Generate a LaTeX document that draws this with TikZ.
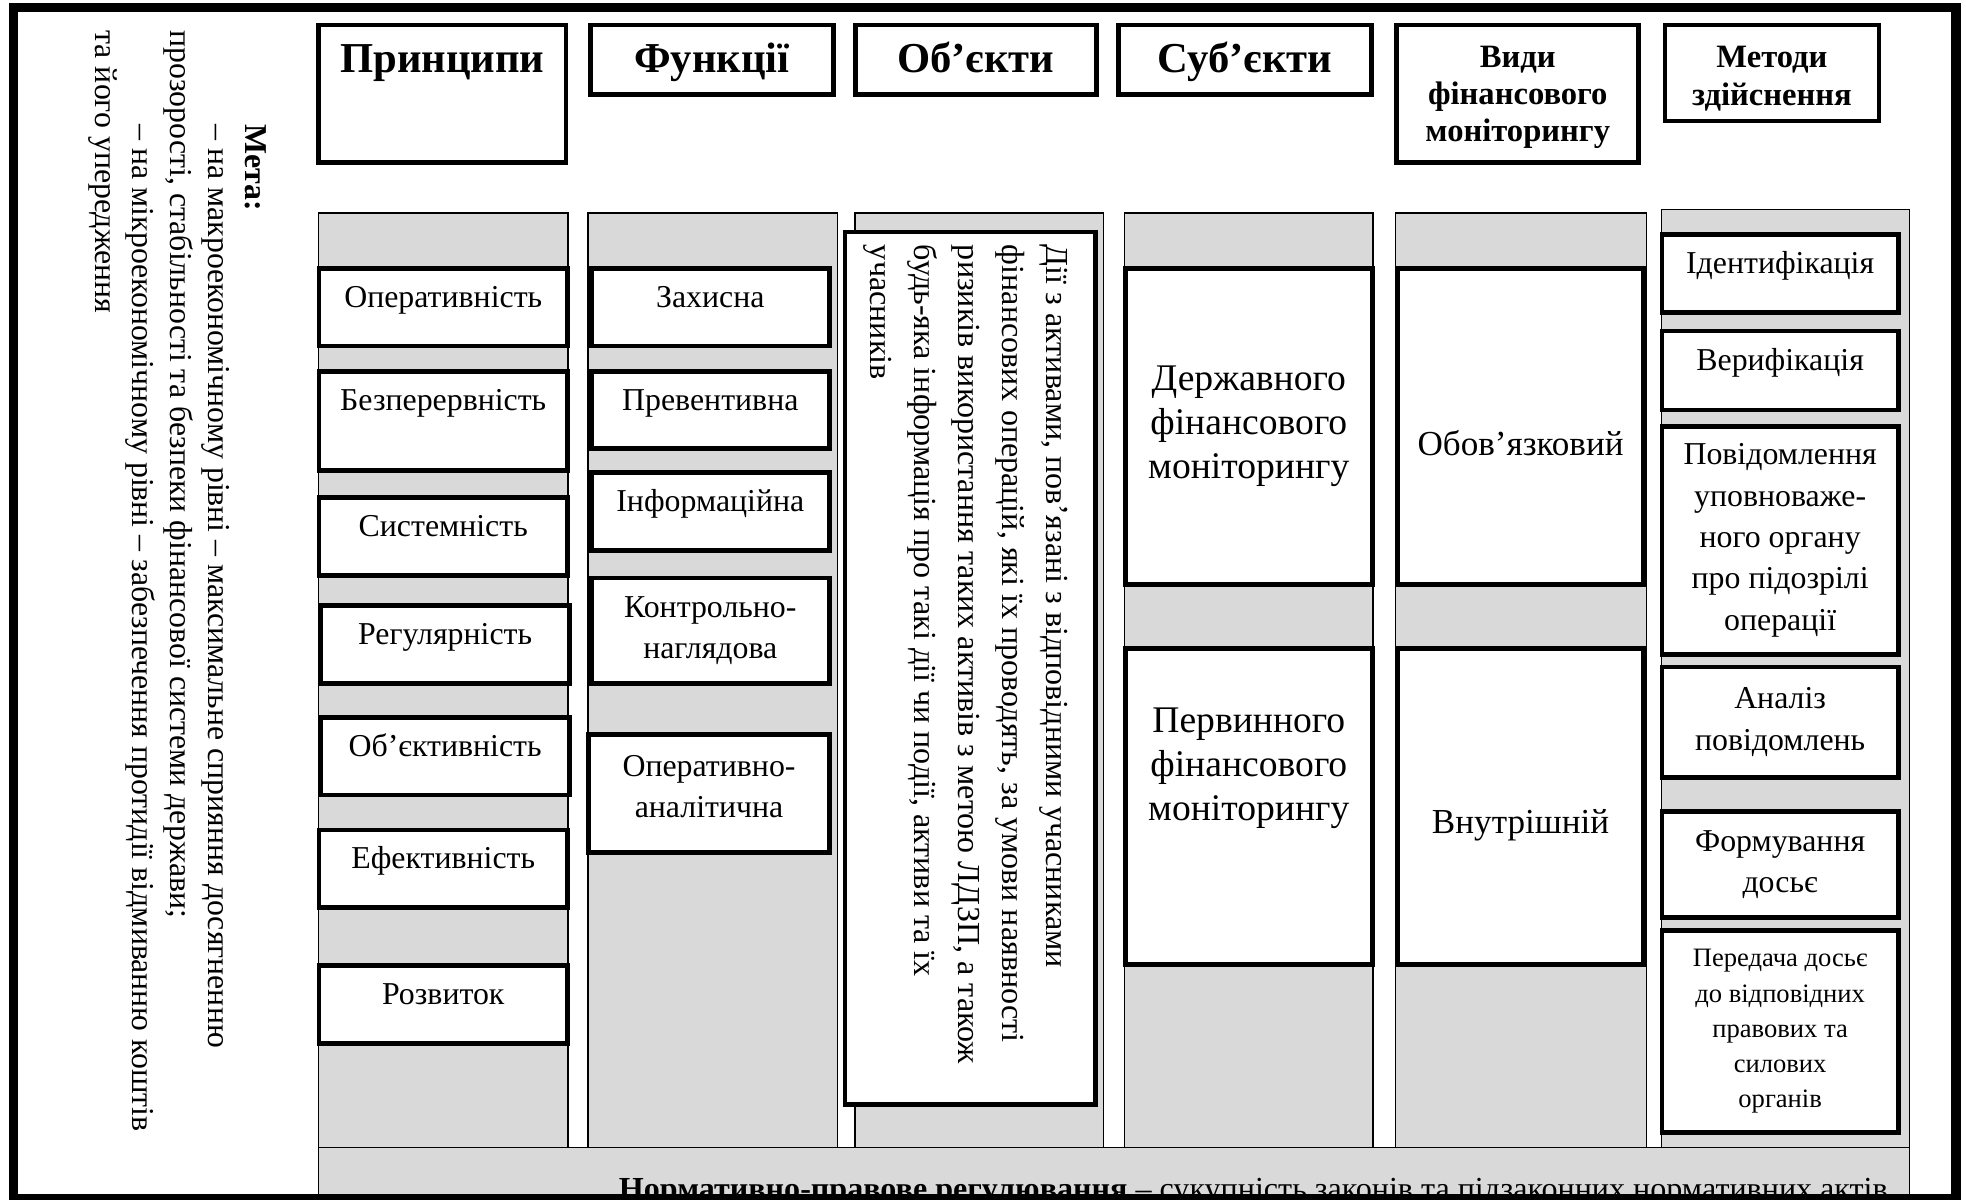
\documentclass[tikz,border=0pt]{standalone}
\usepackage{fontspec}
\setmainfont{Liberation Serif}

\tikzset{
  span/.style n args={4}{at={({(#1+#3)/2},{(#2+#4)/2})},
    minimum width={(#3-#1)*0.5pt}, minimum height={(#4-#2)*0.5pt}},
  stripe/.style={draw, line width=0.6pt, fill=black!15, inner sep=0pt},
  cell/.style={draw, line width=1.9pt, fill=white, inner sep=0pt, align=center,
    font=\fontsize{12.7}{16.5}\selectfont},
  lift/.style={text height=9pt, text depth=9pt},
  head/.style={cell, font=\fontsize{17}{20}\selectfont\bfseries},
  subhead/.style={cell, font=\fontsize{13}{14.8}\selectfont\bfseries},
  large/.style={cell, font=\fontsize{15}{17.5}\selectfont},
  small/.style={cell, font=\fontsize{10.6}{14}\selectfont},
  turned/.style={rotate=-90, anchor=north west, inner sep=0pt, align=left}
}

\begin{document}
\begin{tikzpicture}[x=0.5pt, y=-0.5pt]
  \useasboundingbox (0,0) rectangle (1568,957);

  % grey columns and the bottom band
  \node[stripe, span={254}{170}{453}{915}] (c1) {};
  \node[stripe, span={469}{170}{668}{915}] (c2) {};
  \node[stripe, span={682}{170}{880}{915}] (c3) {};
  \node[stripe, span={897}{170}{1095}{915}] (c4) {};
  \node[stripe, span={1113}{170}{1313}{915}] (c5) {};
  \node[stripe, span={1325}{167}{1523}{915}] (c6) {};
  \node[stripe, span={254}{915}{1523}{957}] (law) {};
  \node[anchor=base east, inner sep=0pt, font=\fontsize{12.8}{15}\selectfont] (lawtxt) at (1506,957)
    {\textbf{Нормативно-правове регулювання} – сукупність законів та підзаконних нормативних актів};

  % headers
  \node[head, span={254}{20}{451.5}{129.5}, text height=12pt, text depth=29pt] (princ) {Принципи};
  \node[head, span={471}{20}{664.5}{75.5}, text height=14pt, text depth=4pt] (func) {Функції};
  \node[head, span={682}{20}{874.5}{75.5}, text height=14pt, text depth=4pt] (obj) {Об’єкти};
  \node[head, span={892}{20}{1094}{75.5}, text height=14pt, text depth=4pt] (subj) {Суб’єкти};
  \node[subhead, span={1114}{20}{1307}{129.5}] (kind) {\rule{0pt}{11.5pt}Види\\фінансового\\моніторингу};
  \node[subhead, span={1328}{20}{1498.5}{96.5}] (meth) {\rule{0pt}{13pt}Методи\\здійснення};

  % principles
  \node[cell, lift, span={254.5}{214}{452.5}{276}] (p1) {Оперативність};
  \node[cell, span={254.5}{296}{452.5}{375}, text height=9pt, text depth=17pt] (p2) {Безперервність};
  \node[cell, lift, span={254.5}{397}{452.5}{459}] (p3) {Системність};
  \node[cell, lift, span={256}{483}{454}{545}] (p4) {Регулярність};
  \node[cell, lift, span={256}{572}{454}{634}] (p5) {Об’єктивність};
  \node[cell, lift, span={254.5}{662}{452.5}{724}] (p6) {Ефективність};
  \node[cell, lift, span={254.5}{770}{452.5}{832}] (p7) {Розвиток};

  % functions
  \node[cell, lift, span={471.5}{214}{661.5}{276}] (f1) {Захисна};
  \node[cell, lift, span={471.5}{296}{661.5}{358}] (f2) {Превентивна};
  \node[cell, lift, span={471.5}{377}{661.5}{439}] (f3) {Інформаційна};
  \node[cell, span={471.5}{461}{661.5}{545}] (f4) {Контрольно-\\наглядова};
  \node[cell, span={469.5}{586}{661.5}{680}] (f5) {Оперативно-\\аналітична\rule[-6pt]{0pt}{0pt}};

  % objects
  \node[cell, span={674}{185}{874}{881}] (o1) {};
  \node[turned, font=\fontsize{12.8}{17.5}\selectfont] (o1txt) at (852,195)
    {Дії з активами, пов’язані з відповідними учасниками\\
     фінансових операцій, які їх проводять, за умови наявності\\
     ризиків використання таких активів з метою ЛДЗП, а також\\
     будь-яка інформація про такі дії чи події, активи та їх\\
     учасників};

  % subjects
  \node[large, span={897.5}{214}{1094.5}{466}] (s1) {Державного\\фінансового\\моніторингу};
  \node[large, span={897.5}{517}{1094.5}{769}] (s2) {};
  \node[font=\fontsize{15}{17.5}\selectfont, align=center] (s2txt) at ([yshift=15pt]s2.center)
    {Первинного\\фінансового\\моніторингу};

  % kinds
  \node[large, font=\fontsize{14}{17}\selectfont, span={1114.5}{214}{1311}{466},
        text height=26pt, text depth=3pt] (k1) {Обов’язковий};
  \node[large, font=\fontsize{14}{17}\selectfont, span={1114.5}{517}{1311}{769},
        text height=25pt, text depth=3pt] (k2) {Внутрішній};

  % methods
  \node[cell, lift, span={1325.5}{187}{1514}{249}] (m1) {Ідентифікація};
  \node[cell, lift, span={1325.5}{264}{1514}{327}] (m2) {Верифікація};
  \node[cell, span={1325.5}{340}{1514}{522}] (m3) {Повідомлення\\уповноваже-\\ного органу\\про підозрілі\\операції};
  \node[cell, span={1325.5}{532}{1514}{620}] (m4) {Аналіз\\повідомлень};
  \node[cell, span={1325.5}{647}{1514}{732}] (m5) {Формування\\досьє};
  \node[small, span={1325.5}{742}{1514}{903}] (m6) {Передача досьє\\до відповідних\\правових та\\силових\\органів};

  % goal
  \node[turned, font=\fontsize{12.7}{15}\selectfont] (goal) at (213,24)
    {\hspace*{37.5pt}\textbf{Мета:}\\
     \hspace*{37.5pt}– на макроекономічному рівні – максимальне сприяння досягненню\\
     прозорості, стабільності та безпеки фінансової системи держави;\\
     \hspace*{37.5pt}– на мікроекономічному рівні – забезпечення протидії відмиванню коштів\\
     та його упередження};

  \draw[line width=3.6pt] (10.8,6) rectangle (1560,955.6);
\end{tikzpicture}
\end{document}
